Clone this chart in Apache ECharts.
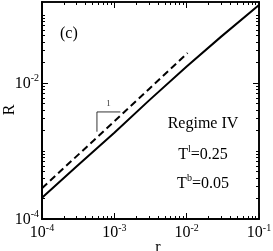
<!DOCTYPE html>
<html><head><meta charset="utf-8">
<script src="https://cdn.jsdelivr.net/npm/echarts@6/dist/echarts.min.js"></script>
<style>html,body{margin:0;padding:0;background:#fff}#c{width:273px;height:251px}</style>
</head><body><div id="c"></div>
<script>
// Data
var solidR = [1e-4, 3e-4, 1e-3, 3e-3, 1e-2, 3e-2, 1e-1];
var solidVals = [2.05e-4, 5.9e-4, 1.85e-3, 5.5e-3, 1.75e-2, 4.8e-2, 0.14];
var dashedR = [1e-4, 1e-3, 3e-3, 0.0103];
var dashedVals = [2.83e-4, 2.73e-3, 8.1e-3, 0.0276];
var slopeR = [1.21e-3, 5.75e-4, 5.75e-4];
var slopeVals = [3.75e-3, 3.75e-3, 1.92e-3];
var xMajor = [1e-4, 1e-3, 1e-2, 1e-1];
var yMajor = [1e-4, 1e-2];
var xMin = 1e-4, xMax = 1e-1, yMin = 1e-4, yMax = 0.155;

function minorTicks(lo, hi, skip) {
  var out = [];
  for (var e = -5; e <= 0; e++) {
    for (var k = 1; k <= 9; k++) {
      var v = parseFloat((k * Math.pow(10, e)).toPrecision(6));
      if (v < lo * 0.9999 || v > hi * 1.0001) continue;
      var isMaj = skip.some(function (m) { return Math.abs(m - v) / m < 1e-6; });
      if (!isMaj) out.push(v);
    }
  }
  return out;
}
var xMinor = minorTicks(xMin, xMax, xMajor);
var yMinor = minorTicks(yMin, yMax, yMajor);
var L = Math.log10;

var FONT = "'Liberation Serif','Times New Roman',serif";
function fmt(v) {
  var e = Math.round(Math.log10(v));
  return '{b|10}{s|' + e + '}';
}
var rich = {
  b: { fontFamily: FONT, fontSize: 16, color: '#000', verticalAlign: 'bottom', lineHeight: 17 },
  s: { fontFamily: FONT, fontSize: 10, color: '#000', verticalAlign: 'bottom', padding: [0, 0, 8, 0], lineHeight: 17 }
};
var AXLINE = { show: true, onZero: false, lineStyle: { color: '#000', width: 1.6 } };

// tick-only axes in log10 space (same scale as the log axes)
function tickAx(pos, lo, hi, vals, len) {
  return {
    type: 'value', min: L(lo), max: L(hi), position: pos,
    axisLine: AXLINE,
    axisTick: { show: true, inside: true, length: len, customValues: vals.map(L), lineStyle: { color: '#000', width: 1 } },
    axisLabel: { show: false }, splitLine: { show: false }, minorTick: { show: false }
  };
}

var chart = echarts.init(document.getElementById('c'), null, { renderer: 'canvas' });
chart.setOption({
  animation: false,
  backgroundColor: '#fff',
  grid: { left: 42, right: 14, top: 2, bottom: 32, containLabel: false, outerBoundsMode: 'none' },
  xAxis: [
    { type: 'log', logBase: 10, min: xMin, max: xMax, position: 'bottom',
      axisLine: AXLINE, axisTick: { show: false },
      axisLabel: { show: true, customValues: xMajor, formatter: fmt, rich: rich, margin: 5 },
      splitLine: { show: false } },
    tickAx('bottom', xMin, xMax, xMajor, 6),
    tickAx('bottom', xMin, xMax, xMinor, 3),
    tickAx('top', xMin, xMax, xMajor, 6),
    tickAx('top', xMin, xMax, xMinor, 3)
  ],
  yAxis: [
    { type: 'log', logBase: 10, min: yMin, max: yMax, position: 'left',
      axisLine: AXLINE, axisTick: { show: false },
      axisLabel: { show: true, customValues: yMajor, formatter: fmt, rich: rich, margin: 3 },
      splitLine: { show: false } },
    tickAx('left', yMin, yMax, yMajor, 6),
    tickAx('left', yMin, yMax, yMinor, 3),
    tickAx('right', yMin, yMax, yMajor, 6),
    tickAx('right', yMin, yMax, yMinor, 3)
  ],
  series: [
    { type: 'line', xAxisIndex: 0, yAxisIndex: 0, symbol: 'none',
      data: solidR.map(function (r, i) { return [r, solidVals[i]]; }),
      lineStyle: { color: '#000', width: 2 } },
    { type: 'line', xAxisIndex: 0, yAxisIndex: 0, symbol: 'none',
      data: dashedR.map(function (r, i) { return [r, dashedVals[i]]; }),
      lineStyle: { color: '#000', width: 2, type: [7, 4] } },
    { type: 'line', xAxisIndex: 0, yAxisIndex: 0, symbol: 'none',
      data: slopeR.map(function (r, i) { return [r, slopeVals[i]]; }),
      lineStyle: { color: '#000', width: 0.8 } },
    { type: 'scatter', xAxisIndex: 0, yAxisIndex: 0, symbolSize: 0,
      data: [[8.3e-4, 4.9e-3]],
      label: { show: true, formatter: '1', position: 'inside', fontFamily: FONT, fontSize: 9, color: '#000' } }
  ],
  graphic: [
    { type: 'text', x: 10, y: 110, rotation: Math.PI / 2, style: { text: 'R', font: '16px ' + FONT, fill: '#000', align: 'center', verticalAlign: 'middle' } },
    { type: 'text', x: 158, y: 248, style: { text: 'r', font: '16px ' + FONT, fill: '#000', align: 'center', verticalAlign: 'middle' } },
    { type: 'text', left: 60, top: 26, style: { text: '(c)', font: '16px ' + FONT, fill: '#000' } },
    { type: 'text', x: 203, y: 124, style: { text: 'Regime IV', font: '16px ' + FONT, fill: '#000', align: 'center', verticalAlign: 'middle' } },
    { type: 'text', x: 203, y: 154, style: { text: '{b|T}{s|l}{b|=0.25}', align: 'center', verticalAlign: 'middle', rich: rich } },
    { type: 'text', x: 203, y: 183, style: { text: '{b|T}{s|b}{b|=0.05}', align: 'center', verticalAlign: 'middle', rich: rich } }
  ]
});
</script></body></html>
